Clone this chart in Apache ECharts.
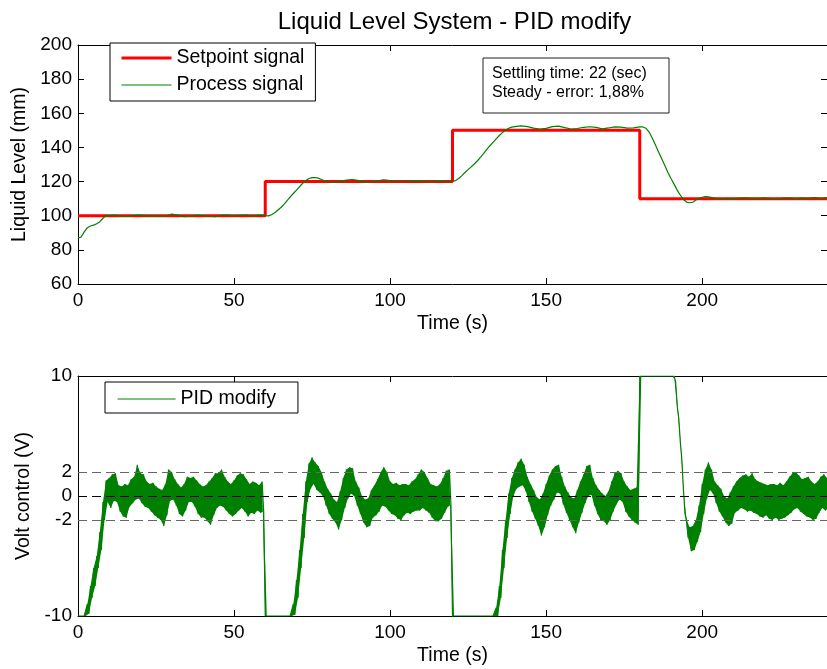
<!DOCTYPE html>
<html>
<head>
<meta charset="utf-8">
<script src="https://cdn.jsdelivr.net/npm/echarts@6/dist/echarts.min.js"></script>
<style>
  html, body { margin: 0; padding: 0; background: #fff; }
  #chart { width: 827px; height: 669px; }
</style>
</head>
<body>
<div id="chart"></div>
<script>
// ---- data ----
const setpointTimes = [0, 60, 120, 180, 240];
const setpointLevels = [100, 120, 150, 110, 110];

const processTimes = [
  0, 1, 2, 3, 4, 5, 6, 7, 8, 9, 10, 12, 14, 16, 18, 20, 22, 24, 26, 28,
  30, 32, 34, 36, 38, 40, 42, 44, 46, 48, 50, 52, 54, 56, 58, 60, 61, 62, 63, 64,
  65, 66, 67, 68, 69, 70, 71, 72, 73, 74, 75, 76, 77, 78, 79, 80, 82, 84, 86, 88,
  90, 92, 94, 96, 98, 100, 102, 104, 106, 108, 110, 112, 114, 116, 118, 120, 121, 122, 123, 124,
  125, 126, 127, 128, 129, 130, 131, 132, 133, 134, 135, 136, 137, 138, 139, 140, 142, 144, 146, 148,
  150, 152, 154, 156, 158, 160, 162, 164, 166, 168, 170, 172, 174, 176, 178, 180, 181, 182, 183, 184,
  185, 186, 187, 188, 189, 190, 191, 192, 193, 194, 195, 196, 197, 198, 199, 200, 201, 202, 204, 206,
  208, 210, 212, 214, 216, 218, 220, 222, 224, 226, 228, 230, 232, 234, 236, 238, 240
];
const processLevels = [
  87.0, 87.5, 90.5, 93.0, 94.0, 94.5, 95.3, 96.5, 98.5, 100.2, 100.0, 100.3, 99.6, 99.7, 100.2, 100.3, 99.8, 100.1, 99.6, 99.7,
  100.9, 100.3, 99.5, 99.8, 100.4, 100.1, 99.7, 99.5, 100.4, 100.3, 99.9, 100.2, 100.4, 99.8, 100.3, 100.0, 99.9, 100.6, 101.7, 103.2,
  104.8, 106.6, 108.8, 111.0, 113.0, 115.0, 117.0, 119.0, 120.6, 121.8, 122.3, 122.4, 122.0, 121.2, 120.5, 119.9, 119.6, 120.2, 120.8, 121.2,
  120.6, 119.7, 119.9, 120.4, 121.0, 120.6, 120.2, 119.9, 120.2, 120.6, 120.3, 119.8, 120.0, 120.4, 120.2, 120.3, 120.6, 121.8, 123.5, 125.3,
  127.0, 128.6, 130.3, 132.2, 134.3, 136.5, 138.8, 141.0, 143.0, 145.0, 147.0, 148.7, 150.0, 151.2, 151.9, 152.2, 152.6, 152.2, 151.3, 150.8,
  151.2, 152.2, 152.5, 151.6, 150.8, 151.1, 151.8, 152.1, 151.7, 150.9, 151.4, 152.0, 151.9, 151.3, 151.5, 152.0, 152.0, 151.2, 149.0, 145.5,
  141.5, 137.5, 133.5, 129.5, 125.5, 121.8, 118.5, 115.0, 112.0, 109.5, 108.0, 107.6, 107.9, 109.2, 110.2, 110.8, 111.2, 111.0, 110.3, 109.8,
  110.2, 110.0, 110.3, 110.5, 110.2, 110.1, 110.4, 110.0, 109.8, 110.3, 110.4, 110.0, 110.3, 110.2, 110.6, 110.2, 110.4
];

// control voltage: upper and lower extent of the noisy trace, one pair per second (t = 0..240)
const voltHi = [
  -10, -10, -10, -9, -7.5, -6, -5, -3, -0.5, 1.3,
  1.5, 1.8, 1.9, 0.9, 0.8, 1.0, 0.9, 1.4, 1.6, 2.6,
  1.9, 1.8, 1.2, 1.0, 1.1, 0.8, 0.6, 0.5, 1.0, 2.2,
  2.0, 1.4, 1.0, 0.7, 1.0, 1.6, 1.5, 1.6, 1.3, 1.0,
  0.8, 0.9, 1.2, 1.5, 1.9, 1.9, 2.2, 1.6, 1.2, 1.0,
  1.3, 1.7, 1.9, 1.8, 1.4, 1.0, 1.2, 1.1, 0.9, 1.2,
  -10, -10, -10, -10, -10, -10, -10, -10, -10, -9,
  -7, -4.5, -1.5, 1.2, 2.7, 3.2, 2.8, 2.5, 2.0, 1.2,
  0.6, 0.2, -0.3, -0.5, 0.4, 1.5, 2.2, 2.4, 2.3, 1.2,
  0.7, 0.0, -0.3, -0.2, 0.5, 0.9, 1.4, 2.0, 2.4, 2.0,
  1.2, 1.0, 1.1, 0.9, 1.0, 1.0, 0.9, 1.2, 1.4, 1.8,
  2.2, 2.0, 1.5, 1.0, 0.9, 0.8, 1.0, 1.5, 2.1, 2.2,
  -10, -10, -10, -10, -10, -10, -10, -10, -10, -10,
  -10, -10, -10, -10, -9.3, -7.5, -4.5, -2, 0.2, 1.5,
  2.2, 2.8, 3.1, 2.6, 1.6, 1.0, 0.5, -0.1, -0.3, 0.2,
  1.0, 1.7, 2.2, 2.5, 2.6, 1.6, 0.8, 0.3, -0.1, -0.2,
  0.5, 1.2, 1.8, 2.5, 2.6, 1.5, 0.9, 0.5, 0.2, 0.0,
  0.4, 1.2, 1.9, 2.1, 1.9, 1.2, 0.8, 0.5, 0.6, 0.7,
  10, 10, 10, 10, 10, 10, 10, 10, 10, 10,
  10, 10, 7.5, 4.5, 0.5, -2.0, -2.6, -2.5, -2.0, -0.8,
  1.0, 2.2, 2.8, 2.2, 1.2, 0.9, 0.6, 0.0, -0.2, 0.3,
  0.8, 1.2, 1.5, 1.7, 1.8, 1.6, 1.9, 1.4, 1.2, 1.1,
  1.0, 0.9, 1.0, 1.0, 0.9, 1.1, 0.9, 1.2, 1.6, 1.9,
  2.0, 1.7, 1.4, 1.5, 1.6, 1.2, 1.0, 1.2, 1.6, 1.8,
  1.5
];
const voltLo = [
  -10, -10, -10, -9.8, -8.5, -7.5, -6, -4.5, -2, -0.5,
  -1.0, -0.4, -0.5, -1.3, -1.7, -1.8, -0.9, -0.6, -0.3, -0.2,
  -0.6, -0.9, -1.0, -1.3, -1.6, -1.8, -2.0, -2.5, -1.6, -0.4,
  -0.3, -0.8, -1.5, -1.7, -1.2, -0.5, -0.5, -0.9, -1.5, -1.8,
  -1.8, -2.1, -2.4, -1.6, -1.0, -0.8, -0.9, -1.2, -1.5, -1.7,
  -1.5, -1.2, -1.0, -1.3, -1.7, -1.4, -1.5, -1.2, -1.4, -1.3,
  -10, -10, -10, -10, -10, -10, -10, -10, -10, -9.9,
  -8.5, -6, -3.5, -0.5, 0.6, 1.0, 0.5, 0.3, 0.0, -0.8,
  -1.5, -1.9, -2.2, -2.8, -2.0, -1.0, -0.2, 0.2, 0.0, -0.8,
  -1.5, -2.2, -2.6, -2.5, -1.8, -1.6, -1.3, -0.8, -0.9, -1.2,
  -1.5, -1.6, -1.9, -2.0, -1.6, -1.4, -1.5, -1.3, -1.2, -1.2,
  -1.0, -1.2, -1.4, -1.8, -2.1, -2.1, -1.9, -1.4, -0.9, -0.7,
  -10, -10, -10, -10, -10, -10, -10, -10, -10, -10,
  -10, -10, -10, -10, -10, -8.5, -6, -3.5, -1.5, 0.0,
  0.6, 0.8, 0.9, 0.4, -0.5, -1.3, -1.9, -2.5, -3.3, -2.6,
  -1.6, -0.8, -0.3, 0.3, 0.2, -0.7, -1.4, -2.0, -2.6, -3.1,
  -2.2, -1.4, -0.6, 0.0, 0.1, -0.8, -1.5, -2.0, -2.1, -2.4,
  -2.0, -1.3, -0.7, -0.3, -0.5, -1.3, -1.7, -2.0, -2.2, -2.4,
  10, 10, 10, 10, 10, 10, 10, 10, 10, 10,
  10, 9.5, 6.5, 3.0, -1.5, -3.5, -4.6, -4.5, -3.8, -3.0,
  -1.5, -0.2, 0.5, 0.2, -0.6, -1.3, -1.7, -2.2, -2.5, -2.3,
  -1.4, -1.2, -1.0, -1.1, -1.3, -1.2, -1.4, -1.5, -1.7, -1.8,
  -1.6, -1.9, -2.0, -1.8, -2.0, -1.9, -1.8, -1.6, -1.4, -1.1,
  -1.0, -1.3, -1.5, -1.7, -1.8, -2.0, -1.9, -1.4, -1.0, -1.2,
  -1.0
];

const levelTicks = [60, 80, 100, 120, 140, 160, 180, 200];
const voltTicks = [-10, -2, 0, 2, 10];
const voltRefLines = [-2, 0, 2];

const titleText = "Liquid Level System - PID modify";
const noteLines = ["Settling time: 22 (sec)", "Steady - error: 1,88%"];

// ---- chart ----
const FONT = "'Liberation Sans', Arial, Helvetica, sans-serif";
const BLACK = "#000";
const GREEN = "#008000";

const zip = (xs, ys) => xs.map((x, i) => [x, ys[i]]);
// noisy trace: alternate between the top and bottom of the band every half second
const voltData = [];
voltHi.forEach((hi, t) => {
  voltData.push([t, hi]);
  if (t < voltHi.length - 1) voltData.push([t + 0.5, voltLo[t]]);
});

function timeAxis(grid, pos, showLabels) {
  return {
    type: "value", gridIndex: grid, position: pos,
    min: 0, max: 240, interval: 50,
    name: showLabels ? "Time (s)" : "",
    nameLocation: "middle", nameGap: 30,
    nameTextStyle: { color: BLACK, fontSize: 19.5, fontFamily: FONT },
    axisLine: { show: true, onZero: false, lineStyle: { color: BLACK, width: 1 } },
    axisTick: { show: true, inside: true, length: 6, lineStyle: { color: BLACK } },
    axisLabel: { show: showLabels, color: BLACK, fontSize: 19, fontFamily: FONT, margin: 7, showMaxLabel: false },
    splitLine: { show: false }
  };
}

function levelAxis(pos, showLabels) {
  return {
    type: "value", gridIndex: 0, position: pos,
    min: levelTicks[0], max: levelTicks[levelTicks.length - 1], interval: 20,
    name: showLabels ? "Liquid Level (mm)" : "",
    nameLocation: "middle", nameGap: 45,
    nameTextStyle: { color: BLACK, fontSize: 19.5, fontFamily: FONT },
    axisLine: { show: true, onZero: false, lineStyle: { color: BLACK, width: 1 } },
    axisTick: { show: true, inside: true, length: 6, lineStyle: { color: BLACK } },
    axisLabel: { show: showLabels, color: BLACK, fontSize: 19, fontFamily: FONT, margin: 6 },
    splitLine: { show: false }
  };
}

function voltAxis(pos, showLabels) {
  return {
    type: "value", gridIndex: 1, position: pos,
    min: -10, max: 10,
    name: showLabels ? "Volt control (V)" : "",
    nameLocation: "middle", nameGap: 34,
    nameTextStyle: { color: BLACK, fontSize: 19.5, fontFamily: FONT },
    axisLine: { show: true, onZero: false, lineStyle: { color: BLACK, width: 1 } },
    axisTick: { show: true, inside: true, length: 6, customValues: voltTicks, lineStyle: { color: BLACK } },
    axisLabel: { show: showLabels, customValues: voltTicks, color: BLACK, fontSize: 19, fontFamily: FONT, margin: 6 },
    splitLine: { show: false }
  };
}

// filled band between the top and bottom of the noisy trace, placed through the axes
function renderBand(params, api) {
  const pts = [];
  voltHi.forEach((hi, t) => pts.push(api.coord([t, hi])));
  for (let t = voltLo.length - 1; t >= 0; t--) pts.push(api.coord([t + 0.5, voltLo[t]]));
  return {
    type: "polygon",
    shape: { points: pts },
    style: { fill: GREEN, stroke: null },
    silent: true
  };
}

const chart = echarts.init(document.getElementById("chart"), null, { renderer: "canvas" });

chart.setOption({
  animation: false,
  backgroundColor: "#fff",
  textStyle: { fontFamily: FONT },
  grid: [
    { left: 78, top: 45, width: 753, height: 239 },
    { left: 78, top: 376, width: 753, height: 240 }
  ],
  xAxis: [
    timeAxis(0, "bottom", true),
    timeAxis(0, "top", false),
    timeAxis(1, "bottom", true),
    timeAxis(1, "top", false)
  ],
  yAxis: [
    levelAxis("left", true),
    levelAxis("right", false),
    voltAxis("left", true),
    voltAxis("right", false)
  ],
  legend: [
    {
      data: [
        { name: "Setpoint signal", lineStyle: { width: 3 } },
        { name: "Process signal", lineStyle: { width: 1.2 } }
      ],
      orient: "vertical", left: 110, top: 43,
      padding: [5, 11, 6, 10], itemGap: 7,
      itemWidth: 50, itemHeight: 14,
      itemStyle: { opacity: 0 },
      backgroundColor: "#fff", borderColor: BLACK, borderWidth: 1,
      textStyle: { color: BLACK, fontSize: 19.5, fontFamily: FONT },
      selectedMode: false
    },
    {
      data: [{ name: "PID modify", lineStyle: { width: 1.2 } }],
      orient: "vertical", left: 105, top: 382,
      padding: [7, 22, 4, 12],
      itemWidth: 58, itemHeight: 14,
      itemStyle: { opacity: 0 },
      backgroundColor: "#fff", borderColor: BLACK, borderWidth: 1,
      textStyle: { color: BLACK, fontSize: 19.5, fontFamily: FONT },
      selectedMode: false
    }
  ],
  graphic: [
    {
      type: "text", x: 454.5, y: 22, z: 100,
      style: { text: titleText, fill: BLACK, font: "24px " + FONT, align: "center", verticalAlign: "middle" }
    },
    {
      type: "group", x: 483, y: 58, z: 100,
      children: [
        { type: "rect", shape: { x: 0, y: 0, width: 186, height: 55 },
          style: { fill: "#fff", stroke: "#222", lineWidth: 1 } },
        { type: "text", x: 9, y: 16,
          style: { text: noteLines[0], fill: BLACK, font: "16px " + FONT, verticalAlign: "middle" } },
        { type: "text", x: 9, y: 35,
          style: { text: noteLines[1], fill: BLACK, font: "16px " + FONT, verticalAlign: "middle" } }
      ]
    }
  ],
  series: [
    {
      name: "Setpoint signal", type: "line", xAxisIndex: 0, yAxisIndex: 0,
      data: zip(setpointTimes, setpointLevels), step: "end",
      symbol: "none", lineStyle: { color: "#ff0000", width: 3 }, itemStyle: { color: "#ff0000" }
    },
    {
      name: "Process signal", type: "line", xAxisIndex: 0, yAxisIndex: 0,
      data: zip(processTimes, processLevels),
      symbol: "none", lineStyle: { color: GREEN, width: 1.2 }, itemStyle: { color: GREEN }
    },
    {
      name: "band", type: "custom", xAxisIndex: 2, yAxisIndex: 2,
      data: [[0, 0]], renderItem: renderBand, clip: true, silent: true, z: 1
    },
    {
      name: "PID modify", type: "line", xAxisIndex: 2, yAxisIndex: 2,
      data: voltData, z: 2,
      symbol: "none", lineStyle: { color: GREEN, width: 1.2 }, itemStyle: { color: GREEN },
      markLine: {
        silent: true, symbol: "none", animation: false,
        label: { show: false },
        lineStyle: { color: "#333", type: [9, 5], width: 1 },
        data: voltRefLines.map((v) => ({ yAxis: v, lineStyle: { color: v === 0 ? BLACK : "#666" } }))
      }
    }
  ]
});
</script>
</body>
</html>
